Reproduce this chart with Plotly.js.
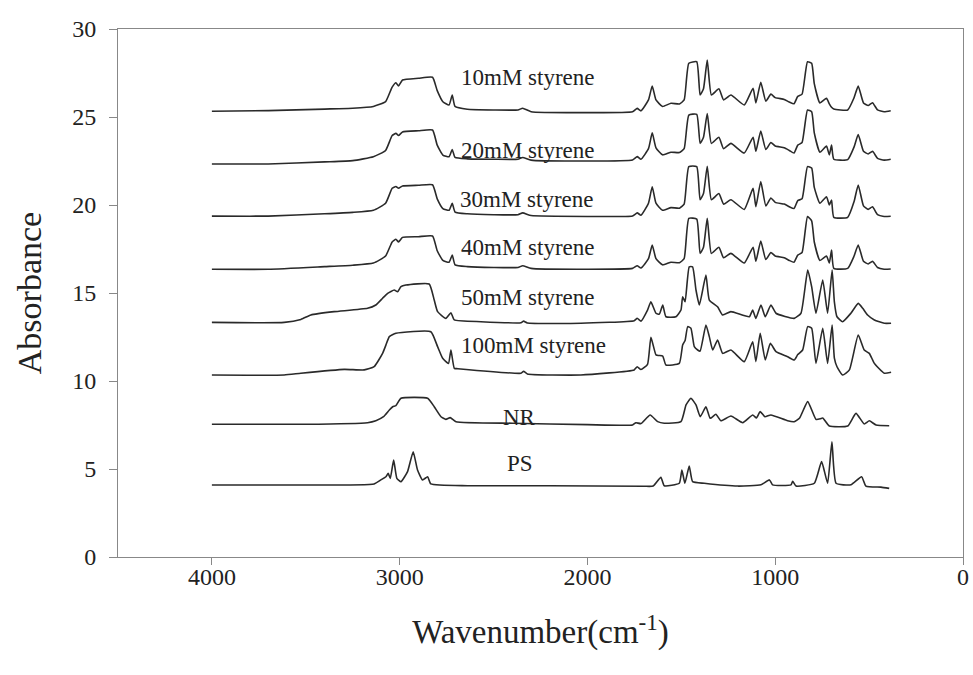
<!DOCTYPE html>
<html>
<head>
<meta charset="utf-8">
<script src="https://cdn.plot.ly/plotly-3.0.1.min.js"></script>
<style>html,body{margin:0;padding:0;background:#fff;}#chart{width:973px;height:675px;}</style>
</head>
<body>
<div id="chart"></div>
<script>
// Wavenumber grid shared by the 10-40 mM spectra
const wnLow = [4000,3700,3400,3250,3140,3075,3040,3020,3006,2985,2900,2825,2800,2770,2737,2720,2705,2640,2500,2370,2345,2300,2000,1760,1735,1715,1675,1655,1635,1600,1555,1510,1485,1460,1418,1400,1382,1362,1340,1300,1275,1236,1165,1118,1103,1077,1050,1023,1000,952,925,900,880,857,828,806,792,762,727,712,700,688,614,580,558,530,505,482,455,420,385];
const abs10 = [25.33,25.36,25.45,25.5,25.6,25.87,26.7,26.95,26.76,27.1,27.2,27.26,26.5,25.87,25.68,26.25,25.6,25.44,25.4,25.4,25.5,25.3,25.25,25.3,25.49,25.35,25.97,26.76,25.97,25.6,25.78,25.74,25.97,28.05,28.14,26.25,26.6,28.24,26.25,26.6,25.97,26.25,25.68,26.63,25.8,26.97,25.9,26.3,26.1,26.0,25.85,25.75,26.17,26.3,28.14,28.05,26.9,25.8,26.06,25.75,25.55,25.45,25.4,26.1,26.76,25.8,25.65,25.81,25.4,25.3,25.36];
const abs20 = [22.33,22.33,22.45,22.52,22.74,23.1,23.95,24.07,23.95,24.15,24.22,24.26,23.4,22.84,22.74,23.15,22.7,22.62,22.6,22.6,22.7,22.55,22.5,22.56,22.75,22.6,23.2,24.1,23.25,22.85,23.0,22.98,23.2,25.11,25.15,23.5,23.85,25.2,23.5,23.85,23.2,23.5,22.95,23.85,23.05,24.2,23.15,23.55,23.35,23.25,23.1,22.95,23.4,23.55,25.4,25.3,24.1,23.0,23.35,22.85,23.4,22.6,22.58,23.3,24.0,23.05,22.9,23.05,22.65,22.55,22.6];
const abs30 = [19.37,19.37,19.5,19.58,19.7,20.1,20.95,21.05,20.95,21.08,21.12,21.15,20.35,19.8,19.7,20.1,19.6,19.5,19.45,19.45,19.55,19.4,19.35,19.38,19.55,19.42,20.1,21.04,20.1,19.7,19.85,19.82,20.05,22.18,22.18,20.3,20.65,22.2,20.3,20.65,20.05,20.3,19.75,20.95,19.9,21.33,19.95,20.4,20.15,20.05,19.9,19.8,20.25,20.35,22.18,22.1,21.0,20.1,20.47,20.0,20.28,19.3,19.3,20.2,21.14,19.95,19.75,19.9,19.45,19.35,19.36];
const abs40 = [16.35,16.35,16.5,16.58,16.7,17.1,17.9,18.05,17.9,18.16,18.2,18.24,17.4,16.85,16.75,17.16,16.6,16.5,16.45,16.45,16.55,16.4,16.35,16.4,16.55,16.42,16.95,17.73,16.95,16.6,16.75,16.72,16.95,19.24,19.2,17.25,17.6,19.24,17.25,17.6,17.0,17.25,16.7,17.6,16.8,17.95,16.9,17.3,17.1,17.0,16.85,16.75,17.15,17.3,19.34,19.1,17.9,16.85,17.1,16.7,17.44,16.4,16.4,17.1,17.73,16.8,16.65,16.8,16.45,16.35,16.36];

const wn50 = [4000,3615,3526,3473,3349,3171,3127,3091,3064,3029,3011,2993,2967,2843,2816,2798,2754,2727,2709,2567,2354,2340,2320,2035,1751,1735,1715,1680,1662,1635,1617,1599,1582,1529,1502,1493,1480,1458,1440,1422,1404,1369,1351,1307,1280,1236,1138,1120,1103,1076,1053,1023,996,899,863,827,806,783,747,721,697,685,671,641,597,558,534,508,472,419,383];
const abs50 = [13.33,13.33,13.5,13.75,13.94,14.13,14.32,14.7,14.98,15.17,15.07,15.36,15.45,15.51,14.6,13.94,13.56,13.88,13.47,13.37,13.31,13.4,13.3,13.28,13.43,13.56,13.4,14.03,14.5,13.85,13.8,14.32,13.65,13.65,14.03,14.79,14.5,16.49,16.49,15.17,14.32,16.02,14.6,14.22,13.75,13.94,13.65,14.03,13.56,14.32,13.65,14.32,13.85,13.56,13.85,16.31,15.36,13.85,15.74,13.85,16.31,14.5,13.65,13.37,13.85,14.41,14.13,13.75,13.47,13.28,13.28];

const wn100 = [4000,3615,3526,3295,3189,3136,3091,3073,3055,3020,2834,2798,2771,2740,2727,2709,2690,2354,2340,2320,2035,1751,1735,1715,1680,1662,1635,1620,1599,1582,1511,1493,1480,1466,1449,1431,1413,1400,1369,1351,1333,1307,1280,1236,1165,1120,1103,1080,1053,1026,996,934,899,880,854,827,806,783,747,721,697,685,671,641,605,558,526,499,472,419,383];
const abs100 = [10.34,10.34,10.44,10.66,10.63,10.81,11.57,12.05,12.52,12.71,12.8,11.95,11.29,11.0,11.76,10.72,10.7,10.44,10.55,10.4,10.34,10.63,10.81,10.65,10.95,12.48,11.48,11.45,11.42,10.91,11.0,12.05,12.3,13.09,13.0,11.95,11.76,11.7,13.18,12.52,11.76,12.33,11.57,11.76,11.1,12.23,11.1,12.71,11.19,12.14,11.67,11.38,11.19,11.5,11.76,13.09,13.0,11.0,12.99,11.0,13.18,11.3,10.81,10.34,10.63,12.61,11.76,11.57,11.0,10.44,10.5];

const wnNR = [4000,3500,3171,3127,3086,3055,3037,3020,2993,2851,2816,2780,2754,2731,2700,2400,2000,1760,1742,1715,1666,1626,1591,1502,1475,1449,1422,1399,1369,1346,1316,1289,1236,1173,1120,1100,1080,1055,1023,934,899,870,827,783,760,747,712,614,570,526,499,463,393];
const absNR = [7.54,7.54,7.63,7.74,7.97,8.35,8.54,8.6,9.02,9.02,8.54,7.97,7.82,7.92,7.69,7.6,7.52,7.5,7.63,7.58,8.07,7.69,7.6,7.69,8.64,9.02,8.64,7.97,8.54,7.88,8.11,7.74,8.01,7.63,8.07,7.9,8.26,7.97,8.07,7.74,7.69,7.9,8.83,7.82,7.85,7.9,7.44,7.44,8.16,7.56,7.74,7.5,7.46];

const wnPS = [4000,3600,3136,3100,3073,3061,3050,3032,3015,2993,2958,2928,2905,2878,2851,2834,2638,2200,1700,1650,1609,1591,1511,1497,1481,1458,1440,1378,1200,1076,1031,1014,916,907,889,792,753,721,698,676,597,540,517,437,393];
const absPS = [4.09,4.09,4.15,4.38,4.56,4.75,4.47,5.51,4.47,4.28,4.85,5.98,4.94,4.38,4.56,4.15,4.05,4.05,4.02,4.03,4.53,4.05,4.19,4.94,4.19,5.17,4.28,4.19,4.03,4.1,4.38,4.1,4.1,4.3,4.03,4.19,5.42,4.19,6.55,4.19,4.1,4.56,4.03,3.97,3.9];

const seriesNames = ["10mM styrene","20mM styrene","30mM styrene","40mM styrene","50mM styrene","100mM styrene","NR","PS"];
const labelX = [2317,2317,2322,2317,2317,2285,2360,2360];
const labelY = [27.27,23.07,20.34,17.61,14.77,11.99,7.95,5.34];
const xTicks = [4000,3000,2000,1000,0];

const xs = [wnLow,wnLow,wnLow,wnLow,wn50,wn100,wnNR,wnPS];
const ys = [abs10,abs20,abs30,abs40,abs50,abs100,absNR,absPS];

const serif = "'Liberation Serif','Times New Roman',serif";
const traces = seriesNames.map((n,i)=>({
  x: xs[i], y: ys[i], type:'scatter', mode:'lines', name:n,
  line:{color:'#2a2a2a', width:1.6, shape:'spline', smoothing:0.45}, hoverinfo:'skip'
}));

const annotations = seriesNames.map((n,i)=>({
  x: labelX[i], y: labelY[i], xref:'x', yref:'y', text:n, showarrow:false,
  font:{family:serif, size:23, color:'#222'}, xanchor:'center', yanchor:'middle'
}));

const layout = {
  width:973, height:675,
  margin:{l:118, r:10, t:29, b:118},
  paper_bgcolor:'#fff', plot_bgcolor:'#fff',
  showlegend:false,
  xaxis:{
    range:[4500,0], tickvals:xTicks, ticktext:xTicks.map(String),
    ticks:'outside', ticklen:7, tickcolor:'#888', tickwidth:1,
    showline:true, linecolor:'#888', linewidth:1, mirror:true,
    showgrid:false, zeroline:false,
    tickfont:{family:serif, size:24, color:'#222'},
    ticklabelstandoff:-9,
    title:{text:'Wavenumber(cm<sup>-1</sup>)', font:{family:serif, size:33, color:'#222'}, standoff:31}
  },
  yaxis:{
    range:[0,30], dtick:5, tick0:0,
    ticks:'outside', ticklen:8, tickcolor:'#888', tickwidth:1,
    showline:true, linecolor:'#888', linewidth:1, mirror:true,
    showgrid:false, zeroline:false,
    tickfont:{family:serif, size:24, color:'#222'},
    ticklabelstandoff:8,
    title:{text:'Absorbance', font:{family:serif, size:34, color:'#222'}, standoff:20}
  },
  annotations: annotations
};

Plotly.newPlot('chart', traces, layout, {displayModeBar:false, staticPlot:true});
</script>
</body>
</html>
